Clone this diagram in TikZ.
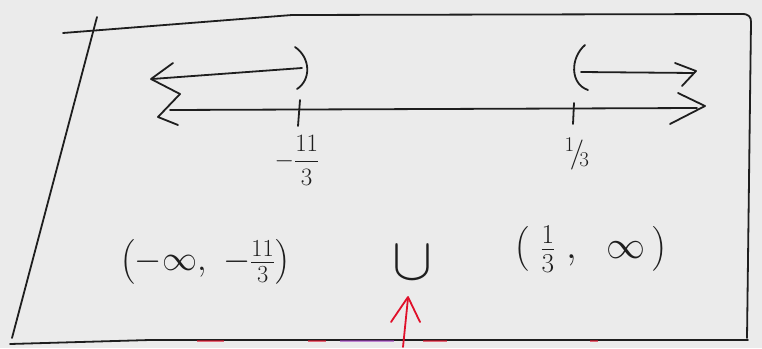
\RequirePackage{fix-cm}
\documentclass[tikz,border=0pt]{standalone}
\usepackage{amsmath}
\definecolor{bg}{HTML}{EBEBEB}
\definecolor{ink}{HTML}{1E1E1E}
\definecolor{pen red}{HTML}{E0102A}
\definecolor{pen purple}{HTML}{A040C0}
\begin{document}
\begin{tikzpicture}[x=1pt,y=-1pt,
  pen/.style={line width=1.8pt, draw=ink, line cap=round, line join=round},
  redpen/.style={line width=1.8pt, draw=pen red, line cap=round, line join=round},
  hand/.style={text=ink, inner sep=0pt},
  big/.style={hand, font=\fontsize{35}{40}\selectfont},
  small/.style={hand, font=\fontsize{25}{30}\selectfont}]
\fill[bg] (0,0) rectangle (762,348);
\useasboundingbox (0,0) rectangle (762,348);
% frame
\draw[pen] (63,33) -- (292,15) -- (742,14) .. controls (749,14) and (751,17) .. (751,22) -- (747,338);
\draw[pen] (97,17) -- (12,338);
\draw[pen] (10,344) -- (150,340) -- (748,340);
% faint coloured strokes on the bottom edge
\foreach \a/\b/\c in {197/224/pen red, 308/326/pen red, 340/394/pen purple, 423/447/pen red, 590/598/pen red}
  \draw[line width=1.4pt, draw=\c, opacity=0.6] (\a,341) -- (\b,341);
% number line
\draw[pen] (170,110) -- (697,108);
\draw[pen] (180,94) -- (158,117) -- (178,125);
\draw[pen] (678,93) -- (705,106) -- (670,124);
% ticks
\draw[pen] (300,100) -- (298,126);
\draw[pen] (574,103) -- (573,124);
% left ray
\draw[pen] (152,79) -- (302,68);
\draw[pen] (173,63) -- (151,79) -- (180,94);
\draw[pen] (295,47) .. controls (311,58) and (311,80) .. (297,89);
% right ray
\draw[pen] (581,72) -- (694,73);
\draw[pen] (675,63) -- (696,71) -- (682,86);
\draw[pen] (585,45) .. controls (570,58) and (570,84) .. (588,90);
% tick labels
\node[small] (lneg) at (297,160) {$-\dfrac{11}{3}$};
\node[hand, font=\fontsize{30}{34}\selectfont] (lpos) at (577,154) {${}^{1}\!/\!{}_{3}$};
% interval notation
\node[big] (left) at (205,262) {$\left(-\infty,\ -\tfrac{11}{3}\right)$};
\node[hand, font=\fontsize{60}{64}\selectfont] (cup) at (412,263) {$\cup$};
\node[hand, font=\fontsize{39}{44}\selectfont] (right) at (591,249) {$\left(\;\tfrac{1}{3}\;,\ \ \infty\,\right)$};
% red arrow
\coordinate (redstart) at (403,347);
\draw[redpen] (redstart) -- (408,298);
\draw[redpen] (391,322) -- (408,297) -- (420,322);
\end{tikzpicture}
\end{document}
